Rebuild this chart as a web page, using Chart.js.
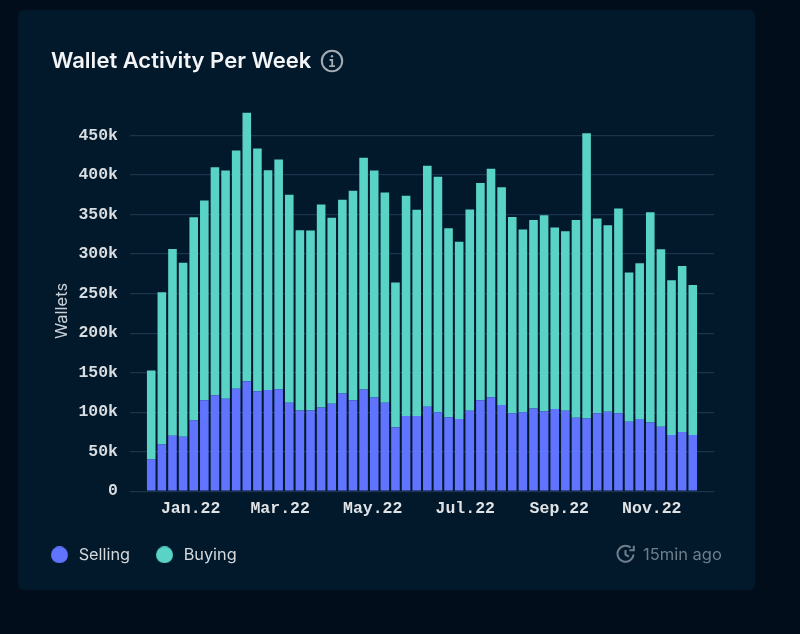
<!DOCTYPE html>
<html><head><meta charset="utf-8">
<script src="https://cdn.jsdelivr.net/npm/chart.js@4"></script>
<style>
html,body{margin:0;padding:0;width:800px;height:634px;overflow:hidden;background:#020d1b}
#card{position:absolute;left:18px;top:10px;width:737px;height:580px;background:#02182b;border-radius:6px}
#wrap{position:absolute;left:0;top:0;width:800px;height:634px}
#head{position:absolute;left:51px;top:46px;font:600 22px Inter,sans-serif;color:#f2f4f6;line-height:28px;white-space:nowrap}
#info{position:absolute;left:320px;top:49px}
#ago{position:absolute;left:643px;top:544px;font:400 16.5px Inter,sans-serif;color:#6f7f8c;line-height:20px;white-space:nowrap}
#clock{position:absolute;left:616px;top:544px}
</style></head><body>
<div id="card"></div>
<div id="wrap"><canvas id="c" width="800" height="634"></canvas></div>
<div id="head">Wallet Activity Per Week</div>
<svg id="info" width="24" height="24" viewBox="0 0 24 24" fill="none" stroke="#a3acb3" stroke-width="2"><circle cx="12" cy="12" r="10.2"/><path d="M9.6 11h2.6v6.2M9.2 17.2h5.8" stroke-width="1.8"/><circle cx="12" cy="7.2" r="1.2" fill="#a3acb3" stroke="none"/></svg>
<div id="ago">15min ago</div>
<svg id="clock" width="20" height="20" viewBox="0 0 20 20" fill="none" stroke="#6f7f8c" stroke-width="2"><path d="M17.5 10.5A8 8 0 1 1 14.6 3.6"/><path d="M17.8 1.8v4.4h-4.4" /><path d="M9.5 6v4.6l3.4 2"/></svg>
<script>
const weeks = ['2021-12-06','2021-12-13','2021-12-20','2021-12-27','2022-01-03','2022-01-10','2022-01-17','2022-01-24','2022-01-31','2022-02-07','2022-02-14','2022-02-21','2022-02-28','2022-03-07','2022-03-14','2022-03-21','2022-03-28','2022-04-04','2022-04-11','2022-04-18','2022-04-25','2022-05-02','2022-05-09','2022-05-16','2022-05-23','2022-05-30','2022-06-06','2022-06-13','2022-06-20','2022-06-27','2022-07-04','2022-07-11','2022-07-18','2022-07-25','2022-08-01','2022-08-08','2022-08-15','2022-08-22','2022-08-29','2022-09-05','2022-09-12','2022-09-19','2022-09-26','2022-10-03','2022-10-10','2022-10-17','2022-10-24','2022-10-31','2022-11-07','2022-11-14','2022-11-21','2022-11-28'];
const selling = [40000,59000,70000,69000,89400,115000,121500,117000,129500,139000,126600,128000,129000,112000,102000,102000,106000,110500,123600,115000,128700,118500,112000,81000,95000,95000,107000,100000,93700,91500,101700,115000,119000,109000,98700,100000,104600,101000,104000,101700,92800,92000,98700,100400,98700,88000,91500,87000,81400,71000,75000,71000];
const buying = [112700,192700,236500,220000,257200,252700,288500,288700,301500,339700,306900,278000,290600,263000,228000,227700,256600,235500,245000,265000,293300,287200,266000,183000,278700,261000,304600,297700,239100,224000,254700,275000,289000,275700,248300,231000,238400,248000,229600,227300,250200,361000,246300,236200,259000,188700,197000,266000,224600,196000,210000,190000];
const tickDates = ['2022-01-01','2022-03-01','2022-05-01','2022-07-01','2022-09-01','2022-11-01'];
const tickNames = ['Jan.22','Mar.22','May.22','Jul.22','Sep.22','Nov.22'];
const yTicks = [0,50000,100000,150000,200000,250000,300000,350000,400000,450000];

const ms = s => Date.parse(s + 'T00:00:00Z');
const weekMs = 7 * 864e5;
const pairs = arr => arr.map((v, i) => ({x: ms(weeks[i]), y: v}));
const tickFont = {family: '"Liberation Mono", monospace', size: 16.5, weight: 'bold'};
const dot = color => {
  const k = document.createElement('canvas'); k.width = 17; k.height = 17;
  const g = k.getContext('2d'); g.fillStyle = color;
  g.beginPath(); g.arc(8.5, 8.5, 8.5, 0, Math.PI * 2); g.fill();
  return k;
};

new Chart(document.getElementById('c'), {
  type: 'bar',
  data: {datasets: [
    {label: 'Selling', data: pairs(selling), backgroundColor: '#6074ff', borderWidth: 0, stack: 's'},
    {label: 'Buying', data: pairs(buying), backgroundColor: '#5ad3c7', borderWidth: 0, stack: 's'}
  ]},
  options: {
    responsive: false,
    animation: false,
    devicePixelRatio: 1,
    layout: {padding: {left: 25, right: 86, top: 111.8, bottom: 61}},
    datasets: {bar: {categoryPercentage: 1, barPercentage: 0.81}},
    plugins: {
      tooltip: {enabled: false},
      title: {display: false},
      legend: {
        display: true, position: 'bottom', align: 'start',
        labels: {usePointStyle: true, pointStyleWidth: 22, boxHeight: 12, padding: 23.5,
          color: '#d5dade', font: {family: 'Inter, sans-serif', size: 16.3},
          generateLabels: chart => Chart.defaults.plugins.legend.labels.generateLabels(chart)
            .map((l, i) => Object.assign(l, {pointStyle: dot(chart.data.datasets[i].backgroundColor)}))}
      }
    },
    scales: {
      x: {
        type: 'linear', stacked: true, offset: false,
        min: ms(weeks[0]) - 2 * weekMs,
        max: ms(weeks[weeks.length - 1]) + 2 * weekMs,
        afterBuildTicks: s => { s.ticks = tickDates.map(d => ({value: ms(d)})); },
        afterFit: s => { s.height = 32; },
        grid: {display: false, drawTicks: false},
        border: {display: false},
        ticks: {
          autoSkip: false, maxRotation: 0, minRotation: 0, padding: 8,
          color: '#dfe3e6', font: tickFont,
          callback: v => tickNames[tickDates.findIndex(d => ms(d) === v)]
        }
      },
      y: {
        stacked: true, min: 0, max: 480000,
        afterBuildTicks: s => { s.ticks = yTicks.map(v => ({value: v})); },
        afterFit: s => {
          s.width = 105;
          if (!s.shifted) {
            s.shifted = true;
            const draw = s.drawTitle;
            s.drawTitle = function () { const c = this.ctx; c.save(); c.translate(0, 9.5); draw.call(this); c.restore(); };
          }
        },
        grid: {color: '#1b344c', lineWidth: 1.2, drawTicks: false},
        border: {display: false},
        title: {display: true, text: 'Wallets', color: '#c9d0d6', padding: {top: 27, bottom: 0},
          font: {family: 'Inter, sans-serif', size: 16.5}},
        ticks: {
          padding: 12, color: '#d8dde1', font: tickFont,
          callback: v => v === 0 ? '0' : (v / 1000) + 'k'
        }
      }
    }
  }
});
</script>
</body></html>
